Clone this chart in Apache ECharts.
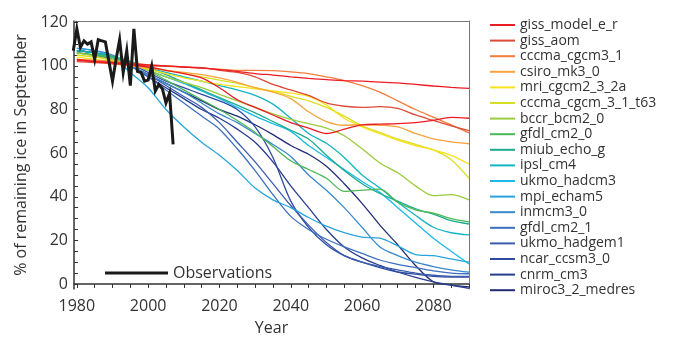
<!DOCTYPE html>
<html><head><meta charset="utf-8">
<script src="https://cdn.jsdelivr.net/npm/echarts@6/dist/echarts.min.js"></script>
<style>html,body{margin:0;padding:0;background:#fff}#c{width:678px;height:341px}</style>
</head><body><div id="c"></div>
<script>
// ---------- data ----------
const years = [1980,1985,1990,1995,2000,2005,2010,2015,2020,2025,2030,2035,2040,2045,2050,2055,2060,2065,2070,2075,2080,2085,2090];

const giss_model_e_r      = [102.5,102,101.5,101,100.5,100,99.5,99,98.3,97.5,96.5,95.8,95,94.3,93.7,93.3,93,92.6,92.2,91.5,90.8,90.2,89.7];
const giss_model_e_r_b    = [103,102,101.5,100.5,99.5,98,96.5,94.5,90,84.5,81,77.5,74,71.5,69,71,73,73.3,73.5,74,75,76.4,76];
const giss_aom            = [102,101.5,101,100.5,100,99.8,99.5,99.2,98,97,95,91.5,89,86.5,83,81.5,81,81.3,80.5,77.5,75,72.5,70.3];
const cccma_cgcm3_1       = [103,102.5,102,101.5,100.5,100,99.5,99,98.5,98,98,97.8,97.3,96.5,95,93.3,91,88,84,80,76.5,73,69.3];
const csiro_mk3_0         = [103,102,101,100,99,98,97,96,94.5,92.5,90,88,85,79,74.5,72.8,73,72.8,72,69,66.5,65.2,64.3];
const mri_cgcm2_3_2a      = [104,103,102,100.5,98.5,96.5,94.5,93,91.5,90.5,89.5,88.5,87.5,86,82,76,72,69,66,63.5,61.5,59,55];
const cccma_cgcm_3_1_t63  = [105,104,102.5,101,99.5,98,96.5,95,93.5,92,90,88.3,86,84,81,77,72.5,69.5,66.5,64,61.5,57,48.5];
const bccr_bcm2_0         = [106,104.5,103,101,98,95,92.5,90,87,84,81,78,75.5,73.5,71.5,68,62,55.5,51,45,40.5,41,38.6];
const gfdl_cm2_0          = [106,105,104,101.5,98,93.5,89,84.5,80,75,69.5,63,56.5,52.5,48.5,42.5,43,43.5,37.5,34,32.5,30,28.5];
const miub_echo_g         = [107,106,104.5,102,99,96,92.5,89,85.5,82,78.5,74.5,70.5,66.5,59,52,46,41.5,38,34.5,32,29,27.5];
const ipsl_cm4            = [106,105,104,102,99.5,97,95,93,91,89,86.5,82.5,76,69,64.5,58,50,44,37.5,31.5,26,23.5,22.5];
const ukmo_hadcm3         = [107,106,104,101.5,98,95,92,88.5,85,81,77,73.5,70,63.5,58,52.5,47,42,35,28,21,15,9.2];
const mpi_echam5          = [108,107,104,97,90,80,72,65,59,52,44,38.6,35,30.5,26.5,23.5,21.5,21,17.5,13.5,13,11.5,10];
const inmcm3_0            = [107,106,104,100,96,92,88,83,78,74,69,64,58.5,50,43,35,26,17,13,10,8,6.5,5.4];
const gfdl_cm2_1          = [108,107,105,100,95,89,83,77,71,62,52,41,31,25,20.5,17,14,11,9,7.5,6,5,4.7];
const ukmo_hadgem1        = [107,106,104,100,96,91,86,81,74,65,56,46,36,27,19,13,10,8,6.5,5,4,3.5,3.5];
const ncar_ccsm3_0        = [107,106,104,101,97,93,90,87,84,80,72,58,38,26,18,13,10,7.5,5.5,4.5,3.5,3.2,3.2];
const cnrm_cm3            = [107,106,104,100,95,90,85,80,76,71,65,56,45,35,25,17,12,8.5,5.5,3,1,-0.5,-2];
const miroc3_2_medres     = [106,105,103,100,96,92,88,84,80,77,73,68.5,63.5,59.5,54,46,37,27,18,8.5,1,-0.5,-1.3];

const obsYears  = [1979,1980,1981,1982,1983,1984,1985,1986,1987,1988,1989,1990,1991,1992,1993,1994,1995,1996,1997,1998,1999,2000,2001,2002,2003,2004,2005,2006,2007];
const obsValues = [107,117,108.5,111.5,110,111,103,112,111.5,111,102,93,103,112,97,107,91,117,97.5,97,93,93.5,100,88.5,91.5,89.5,83,87.5,64];

const modelNames = ['giss_model_e_r','giss_aom','cccma_cgcm3_1','csiro_mk3_0','mri_cgcm2_3_2a','cccma_cgcm_3_1_t63','bccr_bcm2_0','gfdl_cm2_0','miub_echo_g','ipsl_cm4','ukmo_hadcm3','mpi_echam5','inmcm3_0','gfdl_cm2_1','ukmo_hadgem1','ncar_ccsm3_0','cnrm_cm3','miroc3_2_medres'];
const modelColors = ['#ed1c24','#dc4a38','#f47c3c','#f9a33a','#f8e11a','#d7df23','#9acb3c','#4cb757','#1daa8e','#14b4c4','#1cb9e9','#27a4dd','#3a88cc','#3e6fbd','#3b5cae','#2f4aa2','#283c90','#212c74'];

const runs = [
  ['giss_model_e_r', giss_model_e_r],
  ['giss_model_e_r', giss_model_e_r_b],
  ['giss_aom', giss_aom],
  ['cccma_cgcm3_1', cccma_cgcm3_1],
  ['csiro_mk3_0', csiro_mk3_0],
  ['mri_cgcm2_3_2a', mri_cgcm2_3_2a],
  ['cccma_cgcm_3_1_t63', cccma_cgcm_3_1_t63],
  ['bccr_bcm2_0', bccr_bcm2_0],
  ['gfdl_cm2_0', gfdl_cm2_0],
  ['miub_echo_g', miub_echo_g],
  ['ipsl_cm4', ipsl_cm4],
  ['ukmo_hadcm3', ukmo_hadcm3],
  ['mpi_echam5', mpi_echam5],
  ['inmcm3_0', inmcm3_0],
  ['gfdl_cm2_1', gfdl_cm2_1],
  ['ukmo_hadgem1', ukmo_hadgem1],
  ['ncar_ccsm3_0', ncar_ccsm3_0],
  ['cnrm_cm3', cnrm_cm3],
  ['miroc3_2_medres', miroc3_2_medres]
];

const xTicks = []; for (let y = 1980; y <= 2090; y += 5) xTicks.push(y);
const xLabels = [1980,2000,2020,2040,2060,2080];
const yTicks = []; for (let v = 0; v <= 120; v += 5) yTicks.push(v);
const yLabels = [0,20,40,60,80,100,120];

// ---------- chart ----------
const FONT = 'Open Sans';
const chart = echarts.init(document.getElementById('c'), null, {renderer:'canvas'});

const series = runs.slice().reverse().map(([name, vals]) => ({
  name, type:'line', symbol:'none', smooth:0.3, animation:false,
  color: modelColors[modelNames.indexOf(name)],
  lineStyle:{width:1.3},
  data: years.map((y,i)=>[y, vals[i]])
}));
series.push({
  name:'Observations', type:'line', symbol:'none', animation:false,
  color:'#1a1a1a', lineStyle:{width:3, join:'miter'},
  data: obsYears.map((y,i)=>[y, obsValues[i]])
});

chart.setOption({
  animation:false,
  textStyle:{fontFamily:FONT},
  grid:{left:74, right:209, top:21, bottom:49},
  xAxis:[{
    type:'value', min:1979.2, max:2090,
    name:'Year', nameLocation:'middle', nameGap:31,
    nameTextStyle:{fontSize:16, color:'#333', fontFamily:FONT},
    axisLine:{show:true, lineStyle:{color:'#333', width:1.5}},
    axisTick:{show:true, inside:false, length:4, customValues:xTicks, lineStyle:{color:'#333', width:1}},
    axisLabel:{customValues:xLabels, formatter:(v)=>String(v), fontSize:16, color:'#333', margin:9, fontFamily:FONT},
    splitLine:{show:false}
  },{
    type:'value', position:'top', min:1979.2, max:2090,
    axisLine:{show:true, onZero:false, lineStyle:{color:'#777', width:1}},
    axisTick:{show:false}, axisLabel:{show:false}, splitLine:{show:false}
  }],
  yAxis:[{
    type:'value', min:-2.3, max:120.6,
    name:'% of remaining ice in September', nameLocation:'middle', nameGap:43, nameRotate:90,
    nameTextStyle:{fontSize:16, color:'#333', fontFamily:FONT},
    axisLine:{show:true, onZero:false, lineStyle:{color:'#333', width:1.5}},
    axisTick:{show:true, inside:true, length:4, customValues:yTicks, lineStyle:{color:'#333', width:1}},
    axisLabel:{customValues:yLabels, formatter:(v)=>String(v), fontSize:16, color:'#333', margin:6, fontFamily:FONT},
    splitLine:{show:false}
  },{
    type:'value', position:'right', min:-2.3, max:120.6,
    axisLine:{show:true, onZero:false, lineStyle:{color:'#777', width:1}},
    axisTick:{show:false}, axisLabel:{show:false}, splitLine:{show:false}
  }],
  legend:[{
    orient:'vertical', left:485, top:12.2, selectedMode:false,
    icon:'rect', itemWidth:25, itemHeight:2, itemGap:0,
    textStyle:{fontSize:14, lineHeight:15.6, color:'#333', fontFamily:FONT},
    data: modelNames
  },{
    orient:'horizontal', left:100, top:259.5, selectedMode:false,
    icon:'rect', itemWidth:63, itemHeight:3,
    textStyle:{fontSize:16, lineHeight:17, color:'#333', fontFamily:FONT},
    data:['Observations']
  }],
  series
});
</script></body></html>
